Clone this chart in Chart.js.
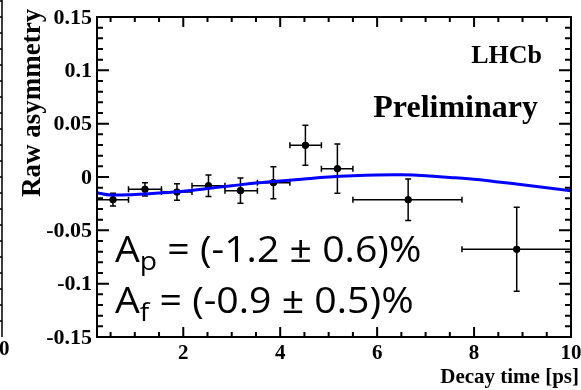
<!DOCTYPE html>
<html>
<head>
<meta charset="utf-8">
<script src="https://cdn.jsdelivr.net/npm/chart.js@4.4.0/dist/chart.umd.min.js"></script>
<style>
  html, body { margin: 0; padding: 0; background: #fff; }
</style>
</head>
<body>
<canvas id="asymChart" width="581" height="390"></canvas>
<script>
// raw asymmetry in bins of decay time
var binLow    = [0.22, 0.87, 1.55, 2.18, 2.86, 3.53, 4.20, 4.85, 5.50, 7.75];
var binHigh   = [0.87, 1.55, 2.18, 2.86, 3.53, 4.20, 4.85, 5.50, 7.75, 10.0];
var decayTime = [0.55, 1.21, 1.87, 2.52, 3.18, 3.86, 4.52, 5.18, 6.64, 8.88];
var rawAsym   = [-0.0213, -0.0115, -0.0141, -0.0082, -0.0128, -0.0053, 0.0297, 0.0078, -0.0213, -0.0678];
var asymErr   = [0.0060, 0.0062, 0.0078, 0.0100, 0.0119, 0.0150, 0.0188, 0.0231, 0.0194, 0.0394];

// fitted asymmetry curve
var fitTime = [0.22, 0.5, 1.0, 1.5, 2.0, 2.5, 3.0, 3.5, 4.0, 4.5, 5.0, 5.5, 6.0, 6.5, 7.0, 7.5, 8.0, 8.5, 9.0, 9.5, 10.0];
var fitAsym = [-0.0147, -0.0168, -0.0163, -0.0150, -0.0133, -0.0108, -0.0082, -0.0057, -0.0038, -0.0018, 0.0000,
               0.0012, 0.0019, 0.0020, 0.0012, -0.0004, -0.0022, -0.0046, -0.0072, -0.0100, -0.0128];

var xTicks = [2, 4, 6, 8, 10];
var yTicks = [-0.15, -0.1, -0.05, 0, 0.05, 0.1, 0.15];
var yTickLabels = ['-0.15', '-0.1', '-0.05', '0', '0.05', '0.1', '0.15'];

var fitResults = [
  { sub: 'p', text: ' = (-1.2 \u00b1 0.6)%' },
  { sub: 'f', text: ' = (-0.9 \u00b1 0.5)%' }
];

var serif = '"Liberation Serif", "Times New Roman", serif';
var sans = '"Open Sans", sans-serif';

function xy(xs, ys) {
  var out = [];
  for (var i = 0; i < xs.length; i++) out.push({ x: xs[i], y: ys[i] });
  return out;
}

var decorations = {
  id: 'decorations',
  beforeDatasetsDraw: function (chart) {
    var ctx = chart.ctx, xs = chart.scales.x, ys = chart.scales.y;
    ctx.save();
    ctx.strokeStyle = '#000';
    ctx.lineWidth = 1.5;
    for (var i = 0; i < decayTime.length; i++) {
      var x0 = xs.getPixelForValue(binLow[i]);
      var x1 = xs.getPixelForValue(binHigh[i]);
      var xc = xs.getPixelForValue(decayTime[i]);
      var yc = ys.getPixelForValue(rawAsym[i]);
      var y0 = ys.getPixelForValue(rawAsym[i] - asymErr[i]);
      var y1 = ys.getPixelForValue(rawAsym[i] + asymErr[i]);
      ctx.beginPath();
      ctx.moveTo(x0, yc); ctx.lineTo(x1, yc);
      ctx.moveTo(xc, y0); ctx.lineTo(xc, y1);
      ctx.moveTo(x0, yc - 3); ctx.lineTo(x0, yc + 3);
      ctx.moveTo(x1, yc - 3); ctx.lineTo(x1, yc + 3);
      ctx.moveTo(xc - 3, y0); ctx.lineTo(xc + 3, y0);
      ctx.moveTo(xc - 3, y1); ctx.lineTo(xc + 3, y1);
      ctx.stroke();
    }
    ctx.restore();
  },
  afterDraw: function (chart) {
    var ctx = chart.ctx, a = chart.chartArea, xs = chart.scales.x, ys = chart.scales.y;
    ctx.save();
    ctx.strokeStyle = '#000';
    ctx.fillStyle = '#000';
    ctx.lineWidth = 2;

    // frame
    ctx.strokeRect(a.left, a.top, a.right - a.left, a.bottom - a.top);

    // ticks pointing inwards, on all four sides
    ctx.beginPath();
    for (var v = 0.5; v < 10; v += 0.5) {
      var px = xs.getPixelForValue(v);
      var len = (xTicks.indexOf(v) >= 0) ? 10 : 5;
      ctx.moveTo(px, a.bottom); ctx.lineTo(px, a.bottom - len);
      ctx.moveTo(px, a.top); ctx.lineTo(px, a.top + len);
    }
    for (var k = -14; k <= 14; k++) {
      var py = ys.getPixelForValue(k / 100);
      var ylen = (k % 5 === 0) ? 12 : 6;
      ctx.moveTo(a.left, py); ctx.lineTo(a.left + ylen, py);
      ctx.moveTo(a.right, py); ctx.lineTo(a.right - ylen, py);
    }
    ctx.stroke();

    // tick labels
    ctx.textBaseline = 'middle';
    ctx.font = 'bold 22px ' + serif;
    ctx.textAlign = 'right';
    for (var j = 0; j < yTicks.length; j++) {
      ctx.fillText(yTickLabels[j], a.left - 5, ys.getPixelForValue(yTicks[j]) + 1);
    }
    ctx.font = 'bold 21px ' + serif;
    ctx.textAlign = 'center';
    for (var m = 0; m < xTicks.length; m++) {
      ctx.fillText(String(xTicks[m]), xs.getPixelForValue(xTicks[m]), a.bottom + 17);
    }
    ctx.textBaseline = 'alphabetic';

    // edge of the neighbouring panel
    ctx.lineWidth = 1.5;
    ctx.beginPath();
    ctx.moveTo(2, 0); ctx.lineTo(2, a.bottom);
    for (var t = a.bottom - 16; t > 0; t -= 16) {
      ctx.moveTo(0, t); ctx.lineTo(2, t);
    }
    ctx.stroke();
    ctx.fillText('10', -1, 355);

    // axis titles
    ctx.font = 'bold 21px ' + serif;
    ctx.textAlign = 'right';
    ctx.fillText('Decay time [ps]', 579, 383);

    ctx.save();
    ctx.translate(40, 197);
    ctx.rotate(-Math.PI / 2);
    ctx.textAlign = 'left';
    ctx.font = 'bold 27px ' + serif;
    ctx.fillText('Raw asymmetry', 0, 0);
    ctx.restore();

    // labels
    ctx.textAlign = 'right';
    ctx.font = 'bold 26px ' + serif;
    ctx.fillText('LHCb', 542, 63);
    ctx.font = 'bold 32px ' + serif;
    ctx.fillText('Preliminary', 538, 117);

    // fit results, set slightly wide
    ctx.textAlign = 'left';
    var baselines = [262, 313];
    for (var i = 0; i < fitResults.length; i++) {
      ctx.save();
      ctx.translate(115, baselines[i]);
      ctx.scale(1.09, 1);
      var x = 0;
      ctx.font = '36px ' + sans;
      ctx.fillText('A', x, 0);
      x += ctx.measureText('A').width;
      ctx.font = '26px ' + sans;
      ctx.fillText(fitResults[i].sub, x, 8);
      x += ctx.measureText(fitResults[i].sub).width;
      ctx.font = '36px ' + sans;
      ctx.fillText(fitResults[i].text, x, 0);
      ctx.restore();
    }
    ctx.restore();
  }
};

new Chart(document.getElementById('asymChart'), {
  type: 'scatter',
  data: {
    datasets: [{
      type: 'line',
      label: 'fit',
      data: xy(fitTime, fitAsym),
      borderColor: '#0000ff',
      borderWidth: 3,
      pointRadius: 0,
      tension: 0.4,
      fill: false
    }, {
      label: 'data',
      data: xy(decayTime, rawAsym),
      backgroundColor: '#000',
      borderColor: '#000',
      pointRadius: 3.3
    }]
  },
  options: {
    responsive: false,
    animation: false,
    layout: { padding: { top: 17, right: 10, left: 0, bottom: 0 } },
    plugins: { legend: { display: false }, tooltip: { enabled: false } },
    scales: {
      x: {
        type: 'linear',
        min: 0.22,
        max: 10,
        grid: { display: false, drawTicks: false },
        border: { display: false },
        ticks: { display: false },
        afterBuildTicks: function (scale) {
          scale.ticks = xTicks.map(function (v) { return { value: v }; });
        },
        afterFit: function (scale) {
          scale.height = 53;
          scale.paddingLeft = 0;
          scale.paddingRight = 0;
        }
      },
      y: {
        type: 'linear',
        min: -0.15,
        max: 0.15,
        grid: { display: false, drawTicks: false },
        border: { display: false },
        ticks: { display: false },
        afterBuildTicks: function (scale) {
          scale.ticks = yTicks.map(function (v) { return { value: v }; });
        },
        afterFit: function (scale) {
          scale.width = 97;
          scale.paddingTop = 0;
          scale.paddingBottom = 0;
        }
      }
    }
  },
  plugins: [decorations]
});
</script>
</body>
</html>
